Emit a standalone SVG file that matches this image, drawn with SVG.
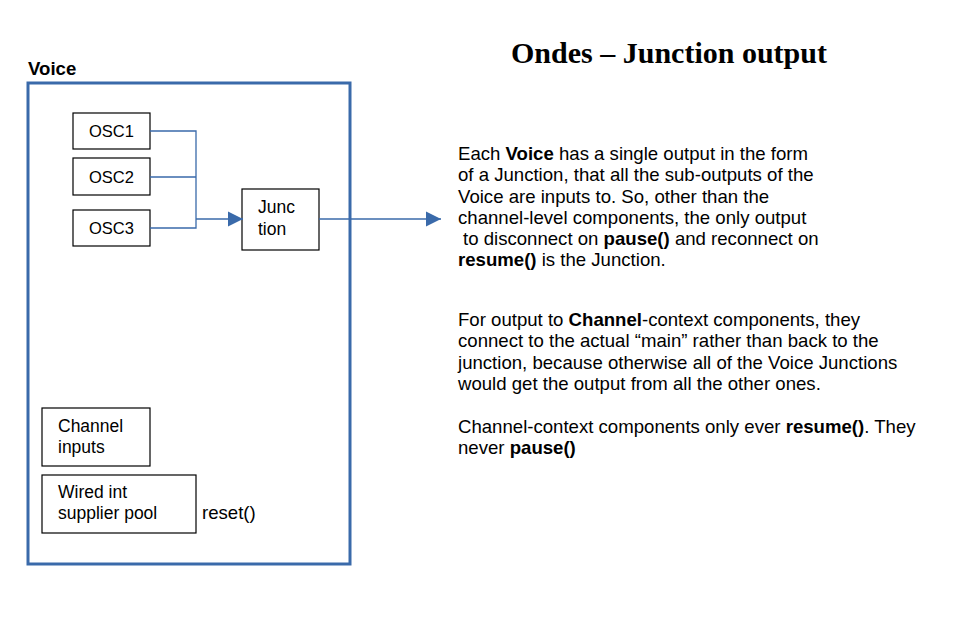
<svg xmlns="http://www.w3.org/2000/svg" width="961" height="624" viewBox="0 0 961 624">
<defs>
<style>
.t{font-family:"Liberation Sans",Arial,sans-serif;font-size:18.6px;fill:#000}
.s{font-size:17.5px}
.o{font-size:16.5px}
.b{font-weight:bold}
.box{fill:#fff;stroke:#000;stroke-width:1.2}
.con{fill:none;stroke:#3a6aaa;stroke-width:1.3}
.title{font-family:"Liberation Serif","DejaVu Serif",serif;font-weight:bold;font-size:30px;fill:#000}
</style>
<marker id="arr" viewBox="0 0 10 10" refX="10" refY="5" markerWidth="15" markerHeight="17" markerUnits="userSpaceOnUse" orient="auto">
<path d="M0,0 L10,5 L0,10 z" fill="#3a6aaa"/>
</marker>
</defs>
<rect width="961" height="624" fill="#fff"/>
<text class="title" x="669" y="63" text-anchor="middle">Ondes – Junction output</text>
<g id="voice">
<text class="t b" x="28" y="75" font-size="16">Voice</text>
<rect x="28" y="83" width="322" height="481" fill="none" stroke="#3a6aaa" stroke-width="3"/>
</g>
<g id="osc1"><rect class="box" x="73" y="113" width="77" height="36"/><text class="t o" x="111.5" y="137" text-anchor="middle">OSC1</text></g>
<g id="osc2"><rect class="box" x="73" y="158" width="77" height="37"/><text class="t o" x="111.5" y="183" text-anchor="middle">OSC2</text></g>
<g id="osc3"><rect class="box" x="73" y="210" width="77" height="36"/><text class="t o" x="111.5" y="234" text-anchor="middle">OSC3</text></g>
<g id="junction"><rect class="box" x="242" y="189" width="77" height="61"/><text class="t s" x="258" y="213">Junc</text><text class="t s" x="258" y="235">tion</text></g>
<g id="channel-inputs"><rect class="box" x="42" y="408" width="108" height="58"/><text class="t s" x="58" y="432">Channel</text><text class="t s" x="58" y="453">inputs</text></g>
<g id="wired-pool"><rect class="box" x="42" y="475" width="154" height="58"/><text class="t s" x="58" y="498">Wired int</text><text class="t s" x="58" y="519">supplier pool</text></g>
<text class="t" x="202" y="519">reset()</text>
<g id="connectors">
<path class="con" d="M150,131 H196 V228 H150 M150,177 H196"/>
<path class="con" d="M196,219 H243" marker-end="url(#arr)"/>
<path class="con" d="M319,219 H441" marker-end="url(#arr)"/>
</g>
<g id="notes">
<text class="t" x="458" y="160">Each <tspan class="b">Voice</tspan> has a single output in the form</text>
<text class="t" x="458" y="181">of a Junction, that all the sub-outputs of the</text>
<text class="t" x="458" y="203">Voice are inputs to. So, other than the</text>
<text class="t" x="458" y="224">channel-level components, the only output</text>
<text class="t" x="463" y="245">to disconnect on <tspan class="b">pause()</tspan> and reconnect on</text>
<text class="t" x="458" y="266"><tspan class="b">resume()</tspan> is the Junction.</text>
<text class="t" x="458" y="326">For output to <tspan class="b">Channel</tspan>-context components, they</text>
<text class="t" x="458" y="347">connect to the actual “main” rather than back to the</text>
<text class="t" x="458" y="369">junction, because otherwise all of the Voice Junctions</text>
<text class="t" x="458" y="390">would get the output from all the other ones.</text>
<text class="t" x="458" y="433">Channel-context components only ever <tspan class="b">resume()</tspan>. They</text>
<text class="t" x="458" y="454">never <tspan class="b">pause()</tspan></text>
</g>
</svg>
